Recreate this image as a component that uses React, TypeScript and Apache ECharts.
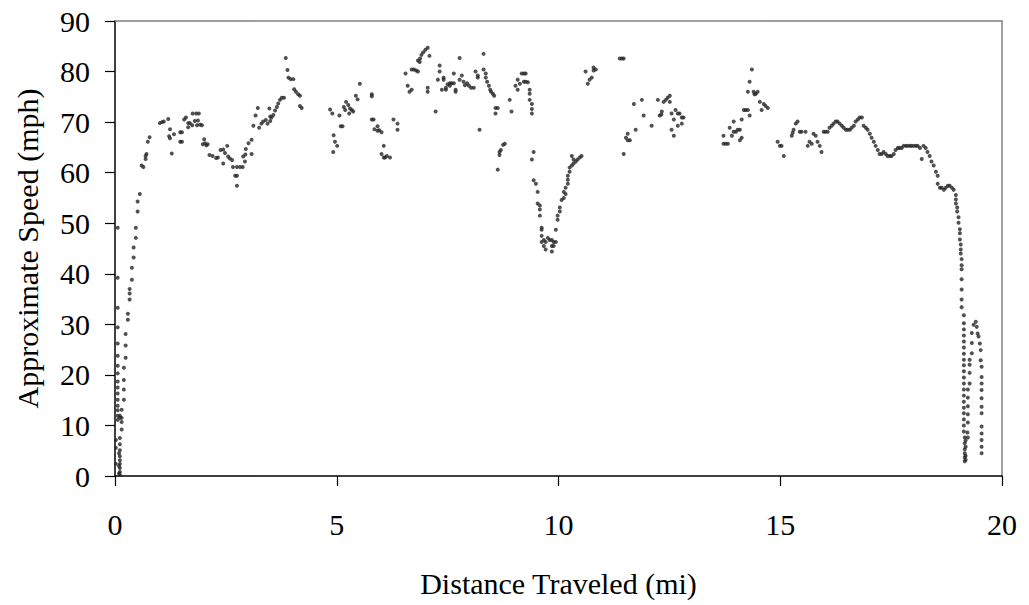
import React, { useEffect, useRef } from "react";
import * as echarts from "echarts";

// Distance (mi), approximate speed (mph) readings, grouped by stretch of the trip
const launch: number[][] = [
  [0.02, 7.1], [0.02, 5.6], [0.02, 2.4],
  [0.06, 49.1], [0.06, 39.2], [0.06, 33.3], [0.06, 29.4], [0.06, 26.2], [0.06, 23.8], [0.06, 21.8], [0.06, 20.3],
  [0.06, 18.7], [0.06, 17.5], [0.06, 16.3], [0.06, 15.1], [0.06, 13.9], [0.06, 13.0], [0.06, 11.9], [0.06, 11.1],
  [0.09, 4.5], [0.09, 2.0], [0.09, 0.5],
  [0.11, 11.9], [0.11, 11.5], [0.11, 7.5], [0.11, 6.3], [0.11, 5.1], [0.11, 3.9], [0.11, 3.1], [0.11, 2.4],
  [0.11, 1.6], [0.11, 0.8], [0.11, 0.2],
  [0.15, 13.1], [0.15, 11.5], [0.15, 10.7], [0.15, 9.2],
  [0.2, 21.4], [0.2, 19.0], [0.2, 17.1], [0.2, 15.1],
  [0.24, 28.1], [0.24, 25.8], [0.24, 23.4],
  [0.29, 32.1], [0.29, 30.9],
  [0.33, 37.0], [0.33, 36.1], [0.33, 34.9],
  [0.38, 41.2], [0.38, 38.8],
  [0.42, 45.2], [0.42, 43.2],
  [0.47, 49.1], [0.47, 47.1],
  [0.51, 54.3], [0.51, 52.3],
  [0.56, 55.8],
];

const early: number[][] = [
  [0.60, 61.4], [0.64, 61.1], [0.69, 63.3], [0.71, 63.7], [0.69, 62.7], [0.74, 66.1], [0.78, 67.0],
  [1.01, 69.8], [1.06, 70.0], [1.10, 70.1], [1.20, 70.6], [1.24, 68.6], [1.22, 67.2], [1.24, 66.8], [1.33, 67.6], [1.28, 63.8],
  [1.47, 68.0], [1.51, 68.0], [1.47, 66.1], [1.51, 66.1], [1.56, 70.5], [1.60, 70.9],
  [1.65, 69.0], [1.69, 69.8], [1.74, 69.4], [1.65, 69.8], [1.75, 71.7], [1.83, 71.7], [1.89, 71.7],
  [1.80, 70.2], [1.87, 70.3], [1.92, 69.5], [1.85, 69.4], [1.96, 69.4],
  [2.01, 66.6], [2.03, 65.8], [2.06, 65.4], [2.09, 65.6], [1.98, 65.6],
  [2.13, 63.5], [2.20, 63.3], [2.28, 62.9], [2.32, 63.0],
  [2.38, 64.5], [2.44, 64.6], [2.48, 63.9], [2.53, 65.3], [2.55, 63.2], [2.59, 62.8], [2.64, 62.5], [2.44, 61.8],
  [2.66, 61.1], [2.75, 61.1], [2.71, 59.4], [2.75, 59.4], [2.75, 57.4],
  [2.82, 61.1], [2.88, 61.1], [2.93, 62.2], [2.94, 63.6], [2.89, 63.2], [2.95, 64.7], [3.01, 65.8], [3.08, 66.5], [3.08, 63.7],
  [3.12, 69.3], [3.17, 71.3], [3.22, 72.8],
  [3.25, 68.9], [3.30, 69.7], [3.34, 70.1], [3.40, 70.4], [3.44, 69.7], [3.50, 70.2], [3.50, 71.1], [3.48, 72.7],
  [3.53, 70.9], [3.57, 71.4], [3.61, 72.3], [3.65, 73.0], [3.68, 73.7], [3.72, 74.4], [3.76, 74.8], [3.81, 74.8],
  [3.85, 82.7], [3.89, 80.3], [3.91, 78.8], [3.96, 78.5], [4.02, 78.5],
  [4.04, 76.5], [4.08, 76.0], [4.13, 75.5], [4.17, 75.2], [4.17, 73.2], [4.21, 72.8],
];

const middle: number[][] = [
  [4.85, 72.5], [4.90, 71.7], [4.93, 67.4], [4.96, 66.1], [5.01, 65.3], [4.92, 64.1], [5.06, 71.3], [5.09, 69.2], [5.13, 69.2],
  [5.16, 73.0], [5.21, 74.0], [5.26, 73.4], [5.30, 72.7], [5.34, 72.4], [5.37, 72.1], [5.28, 71.7], [5.19, 72.4],
  [5.43, 75.2], [5.47, 74.5], [5.52, 77.6],
  [5.79, 75.5], [5.79, 75.1], [5.79, 70.5], [5.83, 70.5], [5.85, 68.6], [5.92, 69.2], [5.96, 68.4], [6.01, 68.0], [5.92, 68.3],
  [6.06, 65.3], [6.01, 63.7], [6.06, 63.0], [6.13, 63.3], [6.20, 63.0], [6.09, 63.0],
  [6.28, 70.5], [6.37, 69.7], [6.37, 68.5],
  [6.55, 79.6], [6.60, 77.2], [6.64, 76.0], [6.69, 76.4],
  [6.69, 80.4], [6.74, 80.4], [6.79, 80.2], [6.83, 80.0],
  [6.83, 82.2], [6.87, 81.9], [6.88, 82.6], [6.91, 83.3], [6.95, 83.8], [7.00, 84.3], [7.05, 84.7], [7.09, 83.1],
  [7.05, 76.8], [7.05, 76.0], [7.23, 72.1],
  [7.28, 78.4], [7.32, 81.2], [7.32, 80.0], [7.37, 76.4], [7.41, 78.8], [7.41, 78.4], [7.46, 76.8], [7.46, 76.4],
  [7.50, 77.5], [7.55, 77.7], [7.55, 77.2], [7.59, 77.7], [7.64, 77.7], [7.64, 79.6], [7.68, 76.4], [7.68, 76.0],
  [7.77, 82.7], [7.77, 78.4], [7.82, 79.2], [7.86, 78.0], [7.89, 77.3], [7.94, 77.7], [7.98, 77.2], [8.03, 76.8], [8.09, 76.8],
  [8.13, 80.0], [8.18, 79.2], [8.18, 78.8], [8.22, 68.5], [8.31, 83.5],
  [8.31, 80.4], [8.36, 79.6], [8.36, 78.8], [8.39, 78.0], [8.43, 77.2], [8.46, 76.4], [8.48, 76.0], [8.52, 75.6], [8.55, 75.2],
  [8.58, 72.8], [8.63, 72.8], [8.58, 71.7],
];

const dip: number[][] = [
  [8.63, 60.6], [8.67, 63.5], [8.67, 64.1], [8.70, 64.5], [8.75, 65.5], [8.79, 65.7],
  [8.90, 74.4], [8.94, 72.1],
  [9.03, 77.2], [9.08, 76.4], [9.08, 78.4], [9.13, 77.6], [9.17, 79.6], [9.22, 79.6], [9.26, 79.6], [9.22, 78.0],
  [9.26, 78.0], [9.31, 77.9], [9.35, 76.4], [9.35, 75.6], [9.35, 74.4], [9.40, 73.6], [9.40, 72.6], [9.40, 71.7],
  [9.44, 64.1], [9.40, 62.6], [9.44, 58.5], [9.49, 57.8], [9.53, 56.2], [9.53, 53.9], [9.58, 53.5], [9.58, 52.7],
  [9.58, 51.5], [9.62, 49.1], [9.62, 48.7], [9.62, 47.5],
  [9.62, 46.3], [9.67, 46.7], [9.71, 46.3], [9.76, 47.1], [9.80, 46.7], [9.85, 46.7], [9.89, 46.3], [9.94, 46.3],
  [9.67, 45.5], [9.71, 44.8], [9.85, 45.5], [9.89, 45.5], [9.85, 44.4],
  [9.94, 48.7], [9.98, 50.7], [9.98, 51.5], [10.03, 52.3], [10.03, 53.1],
  [10.07, 54.6], [10.12, 55.0], [10.12, 56.2], [10.16, 57.0], [10.16, 55.8],
  [10.21, 57.8], [10.21, 58.6], [10.21, 59.4], [10.25, 60.2], [10.25, 61.0], [10.30, 61.4], [10.34, 61.8],
  [10.39, 62.2], [10.43, 62.6], [10.48, 63.0], [10.52, 63.3], [10.30, 63.3], [10.34, 62.6],
  [10.61, 80.0], [10.66, 77.6], [10.70, 78.4], [10.75, 78.8], [10.79, 80.8], [10.84, 80.4], [10.79, 80.2],
  [11.38, 82.6], [11.43, 82.6], [11.47, 82.6], [11.47, 63.7],
  [11.52, 66.9], [11.56, 67.7], [11.56, 66.4], [11.61, 66.4], [11.70, 73.6], [11.74, 68.5], [11.88, 74.4], [11.92, 71.3],
];

const late: number[][] = [
  [12.10, 69.3], [12.24, 74.4], [12.28, 71.3], [12.33, 72.1], [12.32, 71.5], [12.37, 74.0], [12.42, 74.4],
  [12.46, 74.8], [12.51, 75.2], [12.51, 74.0],
  [12.55, 71.7], [12.60, 70.5], [12.64, 72.4], [12.69, 71.7], [12.73, 71.7], [12.78, 70.9], [12.82, 70.9],
  [12.78, 69.7], [12.69, 69.3], [12.55, 68.5], [12.60, 67.3],
  [13.72, 67.3], [13.77, 65.7], [13.72, 65.7], [13.82, 65.7], [13.86, 68.9], [13.91, 67.3], [13.95, 68.1],
  [13.95, 70.1], [14.00, 68.1], [14.04, 68.5], [14.09, 68.5], [14.13, 70.5], [14.09, 66.4], [14.13, 66.9],
  [14.18, 72.4], [14.22, 72.4], [14.27, 72.4], [14.31, 71.3], [14.27, 76.0], [14.31, 78.0], [14.36, 80.4],
  [14.40, 76.0], [14.42, 75.5], [14.45, 75.6], [14.49, 76.0], [14.54, 74.0], [14.58, 72.4], [14.63, 73.6],
  [14.67, 73.2], [14.72, 72.8],
  [14.94, 66.1], [14.99, 65.3], [15.03, 65.3], [15.08, 63.3],
];

const plateau: number[][] = [
  [15.26, 67.3], [15.28, 67.9], [15.30, 68.5], [15.35, 69.7], [15.39, 70.1], [15.44, 68.1], [15.48, 68.1], [15.57, 68.1],
  [15.62, 65.3], [15.66, 66.1], [15.71, 65.7], [15.75, 67.7], [15.80, 67.3], [15.84, 66.1], [15.89, 65.3], [15.93, 64.1],
  [15.98, 68.1], [16.02, 68.1], [16.07, 68.1], [16.11, 68.9], [16.16, 69.3], [16.20, 69.7], [16.25, 70.1],
  [16.29, 70.1], [16.34, 69.7], [16.39, 69.3], [16.43, 68.9], [16.48, 68.5], [16.52, 68.5], [16.57, 68.5],
  [16.61, 68.9], [16.66, 69.3], [16.70, 70.1], [16.75, 70.5], [16.79, 70.9], [16.84, 70.9], [16.88, 69.3],
  [16.93, 68.9], [16.97, 68.5], [17.02, 67.7], [17.06, 66.9], [17.11, 66.1], [17.15, 65.3], [17.20, 64.5],
  [17.24, 63.7], [17.29, 63.7], [17.33, 64.1], [17.38, 63.7], [17.42, 63.3], [17.47, 63.3], [17.51, 63.3],
  [17.56, 63.7], [17.60, 64.5], [17.65, 64.9], [17.69, 64.9], [17.74, 64.9], [17.78, 65.3], [17.83, 65.3],
  [17.87, 65.3], [17.92, 65.3], [17.96, 65.3], [18.01, 65.3], [18.06, 65.3], [18.10, 65.3], [18.15, 64.9],
  [18.19, 62.7], [18.23, 65.3], [18.28, 64.9], [18.32, 64.1], [18.37, 63.3], [18.41, 62.2], [18.46, 61.4],
  [18.51, 60.2], [18.55, 59.4], [18.55, 57.8], [18.60, 57.0], [18.64, 57.0], [18.69, 56.6], [18.73, 57.0],
  [18.78, 57.4], [18.82, 57.4], [18.87, 57.0], [18.91, 56.6], [18.96, 55.6], [18.96, 54.7], [18.96, 53.9],
];

const stop: number[][] = [
  [18.99, 53.1], [18.99, 52.3], [19.02, 51.2], [19.02, 50.1], [19.05, 48.8], [19.05, 48.0], [19.05, 46.8],
  [19.07, 45.8], [19.07, 44.8], [19.07, 44.0], [19.09, 42.9], [19.09, 41.7], [19.09, 40.9], [19.09, 38.9],
  [19.09, 36.9], [19.09, 34.9], [19.09, 33.4],
  [19.14, 31.8], [19.14, 30.2], [19.14, 29.0], [19.14, 27.8], [19.14, 26.6], [19.14, 25.4], [19.14, 24.2],
  [19.14, 23.0], [19.14, 21.9], [19.14, 20.7], [19.14, 19.5], [19.14, 18.3], [19.14, 17.1], [19.14, 15.9],
  [19.14, 14.7], [19.14, 13.5], [19.14, 12.4], [19.14, 11.2], [19.14, 10.0], [19.14, 8.8],
  [19.16, 7.6], [19.16, 6.5], [19.16, 5.3], [19.16, 4.5], [19.16, 3.7], [19.16, 2.9],
  [19.18, 7.0], [19.18, 5.8], [19.18, 4.0], [19.18, 3.2],
  [19.22, 8.6], [19.23, 7.6], [19.23, 10.6], [19.23, 12.2], [19.23, 13.8], [19.23, 15.5], [19.23, 17.1],
  [19.27, 18.3], [19.27, 20.4], [19.27, 22.0], [19.27, 23.0],
  [19.32, 28.3], [19.32, 26.3], [19.32, 24.3],
  [19.36, 29.9], [19.41, 30.5], [19.43, 29.5], [19.45, 28.2], [19.47, 27.6], [19.50, 26.2], [19.52, 24.9], [19.52, 22.9],
  [19.54, 21.6], [19.54, 19.6], [19.54, 18.3], [19.54, 17.0], [19.54, 15.4], [19.54, 13.7], [19.54, 12.4],
  [19.54, 9.8], [19.54, 8.4], [19.54, 7.1], [19.54, 5.8], [19.54, 4.5],
];

const xTitle = "Distance Traveled (mi)";
const yTitle = "Approximate Speed (mph)";

const FONT = '"Liberation Serif", "Times New Roman", serif';

export default function App() {
  const ref = useRef<HTMLDivElement>(null);

  useEffect(() => {
    if (!ref.current) return;
    const chart = echarts.init(ref.current, undefined, { renderer: "svg" });
    const points = [...launch, ...early, ...middle, ...dip, ...late, ...plateau, ...stop];
    const labelStyle = { fontFamily: FONT, fontSize: 30, color: "#000" };
    chart.setOption({
      animation: false,
      backgroundColor: "#fff",
      grid: { left: 115, right: 27, top: 21, bottom: 129, containLabel: false },
      xAxis: [
        {
          type: "value",
          min: 0,
          max: 20,
          interval: 5,
          position: "bottom",
          name: xTitle,
          nameLocation: "middle",
          nameGap: 92,
          nameTextStyle: labelStyle,
          axisLine: { show: true, onZero: false, lineStyle: { color: "#000", width: 1.5 } },
          axisTick: { show: true, inside: false, length: 10, lineStyle: { color: "#000", width: 1.2 } },
          axisLabel: { ...labelStyle, margin: 33 },
          splitLine: { show: false },
        },
        {
          type: "value",
          min: 0,
          max: 20,
          position: "top",
          axisLine: { show: true, onZero: false, lineStyle: { color: "#808080", width: 1.5 } },
          axisTick: { show: false },
          axisLabel: { show: false },
          splitLine: { show: false },
        },
      ],
      yAxis: [
        {
          type: "value",
          min: 0,
          max: 90,
          interval: 10,
          position: "left",
          name: yTitle,
          nameLocation: "middle",
          nameGap: 73,
          nameRotate: 90,
          nameTextStyle: labelStyle,
          axisLine: { show: true, onZero: false, lineStyle: { color: "#000", width: 1.5 } },
          axisTick: { show: true, inside: false, length: 10, lineStyle: { color: "#000", width: 1.2 } },
          axisLabel: { ...labelStyle, margin: 25 },
          splitLine: { show: false },
        },
        {
          type: "value",
          min: 0,
          max: 90,
          position: "right",
          axisLine: { show: true, onZero: false, lineStyle: { color: "#808080", width: 1.5 } },
          axisTick: { show: false },
          axisLabel: { show: false },
          splitLine: { show: false },
        },
      ],
      series: [
        {
          type: "scatter",
          xAxisIndex: 0,
          yAxisIndex: 0,
          data: points,
          symbol: "circle",
          symbolSize: 4,
          itemStyle: { color: "#262626" },
          emphasis: { disabled: true },
        },
      ],
    });
    return () => chart.dispose();
  }, []);

  return (
    <div
      ref={ref}
      style={{ position: "fixed", left: 0, top: 0, width: 1029, height: 605, background: "#fff" }}
    />
  );
}
